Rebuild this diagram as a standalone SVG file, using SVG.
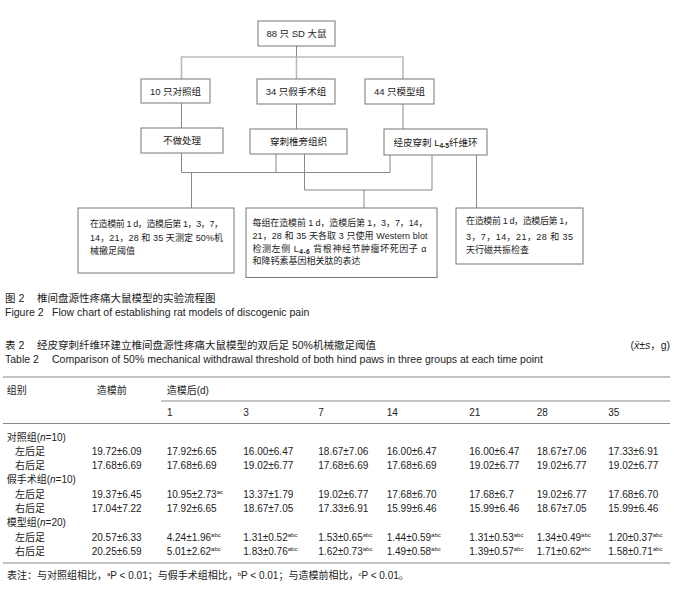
<svg xmlns="http://www.w3.org/2000/svg" width="678" height="590" viewBox="0 0 678 590">
<style>
text{font-family:"Liberation Sans","Noto Sans CJK SC",sans-serif;fill:#222}
.box{fill:#fff;stroke:#777;stroke-width:1}
.ln{stroke:#888;stroke-width:1;fill:none}
.lt{stroke:#bbb;stroke-width:1.6;fill:none}
.fc{font-size:9.5px}
.fb{font-size:9px}
.cap{font-size:10.5px}
.tb{font-size:10px}
.rule{stroke:#888;stroke-width:1.2}
.sup{font-size:6px}
.sub{font-size:6.5px;font-weight:bold}
.it{font-style:italic}
</style>
<g id="connectors">
<path class="ln" d="M296.5,46V57"/>
<path class="lt" d="M181.5,79V57H403V79M296.5,57V79"/>
<path class="ln" d="M181.5,103V128M296.5,104V129M403,104V129"/>
<path class="ln" d="M181.5,153V172.5M276,154V172.5M390,155V172.5M181.5,172.5H390M191.5,172.5V208"/>
<path class="ln" d="M304.5,154V190M432,155V190M304.5,190H432M364,190V208"/>
<path class="ln" d="M476.5,155V208"/>
</g>
<g id="n_rats"><rect class="box" x="258" y="21" width="77" height="25"/><text class="fc" x="296.5" y="37" text-anchor="middle">88 只 SD 大鼠</text></g>
<g id="n_control"><rect class="box" x="141" y="79" width="69" height="24"/><text class="fc" x="175.5" y="94.5" text-anchor="middle">10 只对照组</text></g>
<g id="n_sham"><rect class="box" x="257" y="79" width="78" height="25"/><text class="fc" x="296" y="95" text-anchor="middle">34 只假手术组</text></g>
<g id="n_model"><rect class="box" x="365" y="79" width="69" height="25"/><text class="fc" x="399.5" y="95" text-anchor="middle">44 只模型组</text></g>
<g id="n_none"><rect class="box" x="141" y="128" width="82" height="25"/><text class="fc" x="182" y="144" text-anchor="middle">不做处理</text></g>
<g id="n_para"><rect class="box" x="250" y="129" width="97" height="25"/><text class="fc" x="298.5" y="145" text-anchor="middle">穿刺椎旁组织</text></g>
<g id="n_annulus"><rect class="box" x="384" y="129" width="103" height="26"/><text class="fc" x="435.5" y="146" text-anchor="middle">经皮穿刺 L<tspan class="sub" dy="2">4-5</tspan><tspan dy="-2">纤维环</tspan></text></g>
<g id="n_mwt"><rect class="box" x="78" y="208" width="156" height="65"/>
<text class="fb" x="90" y="227" textLength="133">在造模前 1 d，造模后第 1，3，7，</text>
<text class="fb" x="90" y="240.5" textLength="133">14，21，28 和 35 天测定 50%机</text>
<text class="fb" x="90" y="254">械撤足阈值</text></g>
<g id="n_wb"><rect class="box" x="246" y="208" width="191" height="69.5"/>
<text class="fb" x="252.5" y="226" textLength="175">每组在造模前 1 d，造模后第 1，3，7，14，</text>
<text class="fb" x="252.5" y="239" textLength="175">21，28 和 35 天各取 3 只使用 Western blot</text>
<text class="fb" x="252.5" y="251.5" textLength="174">检测左侧  L<tspan class="sub" dy="2">4-6</tspan><tspan dy="-2"> 背根神经节肿瘤坏死因子 α</tspan></text>
<text class="fb" x="252.5" y="264">和降钙素基因相关肽的表达</text></g>
<g id="n_mri"><rect class="box" x="456" y="208" width="127" height="56"/>
<text class="fb" x="466" y="224" textLength="107">在造模前 1 d，造模后第 1，</text>
<text class="fb" x="466" y="239.5" textLength="107">3，7，14，21，28 和 35</text>
<text class="fb" x="466" y="253">天行磁共振检查</text></g>
<g id="captions">
<text class="cap" x="5" y="302">图 2</text><text class="cap" x="37" y="302">椎间盘源性疼痛大鼠模型的实验流程图</text>
<text class="cap" x="5" y="316">Figure 2</text><text class="cap" x="52" y="316">Flow chart of establishing rat models of discogenic pain</text>
<text class="cap" x="5" y="349">表 2</text><text class="cap" x="37" y="349">经皮穿刺纤维环建立椎间盘源性疼痛大鼠模型的双后足 50%机械撤足阈值</text>
<text class="cap" x="670" y="349" text-anchor="end">(<tspan class="it">x̄</tspan>±<tspan class="it">s</tspan>，g)</text>
<text class="cap" x="5" y="363">Table 2</text><text class="cap" x="52" y="363">Comparison of 50% mechanical withdrawal threshold of both hind paws in three groups at each time point</text>
</g>
<g id="table">
<line class="rule" x1="3" y1="377" x2="670" y2="377"/>
<line class="rule" x1="161" y1="401" x2="670" y2="401"/>
<line class="rule" x1="3" y1="423.5" x2="670" y2="423.5"/>
<line class="rule" x1="3" y1="563" x2="670" y2="563"/>
<g class="tb">
<text x="6.7" y="393.5">组别</text><text x="96.7" y="393.5">造模前</text><text x="166.7" y="393.5">造模后(d)</text>
<text x="167" y="416">1</text><text x="243.3" y="416">3</text><text x="318.3" y="416">7</text><text x="386.7" y="416">14</text><text x="469.3" y="416">21</text><text x="536.7" y="416">28</text><text x="608.3" y="416">35</text>
<text x="6.7" y="441">对照组(<tspan class="it">n</tspan>=10)</text>
<text x="15" y="455.2">左后足</text>
<text x="91.7" y="455.2">19.72±6.09</text><text x="166.7" y="455.2">17.92±6.65</text><text x="243.3" y="455.2">16.00±6.47</text><text x="318.3" y="455.2">18.67±7.06</text><text x="386.7" y="455.2">16.00±6.47</text><text x="469.3" y="455.2">16.00±6.47</text><text x="536.7" y="455.2">18.67±7.06</text><text x="608.3" y="455.2">17.33±6.91</text>
<text x="15" y="468.5">右后足</text>
<text x="91.7" y="468.5">17.68±6.69</text><text x="166.7" y="468.5">17.68±6.69</text><text x="243.3" y="468.5">19.02±6.77</text><text x="318.3" y="468.5">17.68±6.69</text><text x="386.7" y="468.5">17.68±6.69</text><text x="469.3" y="468.5">19.02±6.77</text><text x="536.7" y="468.5">19.02±6.77</text><text x="608.3" y="468.5">19.02±6.77</text>
<text x="6.7" y="482.8">假手术组(<tspan class="it">n</tspan>=10)</text>
<text x="15" y="497.5">左后足</text>
<text x="91.7" y="497.5">19.37±6.45</text><text x="166.7" y="497.5">10.95±2.73<tspan class="sup" dy="-4">ac</tspan></text><text x="243.3" y="497.5">13.37±1.79</text><text x="318.3" y="497.5">19.02±6.77</text><text x="386.7" y="497.5">17.68±6.70</text><text x="469.3" y="497.5">17.68±6.7</text><text x="536.7" y="497.5">19.02±6.77</text><text x="608.3" y="497.5">17.68±6.70</text>
<text x="15" y="511.8">右后足</text>
<text x="91.7" y="511.8">17.04±7.22</text><text x="166.7" y="511.8">17.92±6.65</text><text x="243.3" y="511.8">18.67±7.05</text><text x="318.3" y="511.8">17.33±6.91</text><text x="386.7" y="511.8">15.99±6.46</text><text x="469.3" y="511.8">15.99±6.46</text><text x="536.7" y="511.8">18.67±7.05</text><text x="608.3" y="511.8">15.99±6.46</text>
<text x="6.7" y="526.2">模型组(<tspan class="it">n</tspan>=20)</text>
<text x="15" y="540.8">左后足</text>
<text x="91.7" y="540.8">20.57±6.33</text><text x="166.7" y="540.8">4.24±1.96<tspan class="sup" dy="-4">abc</tspan></text><text x="243.3" y="540.8">1.31±0.52<tspan class="sup" dy="-4">abc</tspan></text><text x="318.3" y="540.8">1.53±0.65<tspan class="sup" dy="-4">abc</tspan></text><text x="386.7" y="540.8">1.44±0.59<tspan class="sup" dy="-4">abc</tspan></text><text x="469.3" y="540.8">1.31±0.53<tspan class="sup" dy="-4">abc</tspan></text><text x="536.7" y="540.8">1.34±0.49<tspan class="sup" dy="-4">abc</tspan></text><text x="608.3" y="540.8">1.20±0.37<tspan class="sup" dy="-4">abc</tspan></text>
<text x="15" y="555.2">右后足</text>
<text x="91.7" y="555.2">20.25±6.59</text><text x="166.7" y="555.2">5.01±2.62<tspan class="sup" dy="-4">abc</tspan></text><text x="243.3" y="555.2">1.83±0.76<tspan class="sup" dy="-4">abc</tspan></text><text x="318.3" y="555.2">1.62±0.73<tspan class="sup" dy="-4">abc</tspan></text><text x="386.7" y="555.2">1.49±0.58<tspan class="sup" dy="-4">abc</tspan></text><text x="469.3" y="555.2">1.39±0.57<tspan class="sup" dy="-4">abc</tspan></text><text x="536.7" y="555.2">1.71±0.62<tspan class="sup" dy="-4">abc</tspan></text><text x="608.3" y="555.2">1.58±0.71<tspan class="sup" dy="-4">abc</tspan></text>
</g>
<text x="7" y="579" font-size="10">表注：与对照组相比，<tspan class="sup" dy="-3.5">a</tspan><tspan dy="3.5">P &lt; 0.01；与假手术组相比，</tspan><tspan class="sup" dy="-3.5">b</tspan><tspan dy="3.5">P &lt; 0.01；与造模前相比，</tspan><tspan class="sup" dy="-3.5">c</tspan><tspan dy="3.5">P &lt; 0.01。</tspan></text>
</g>
</svg>
